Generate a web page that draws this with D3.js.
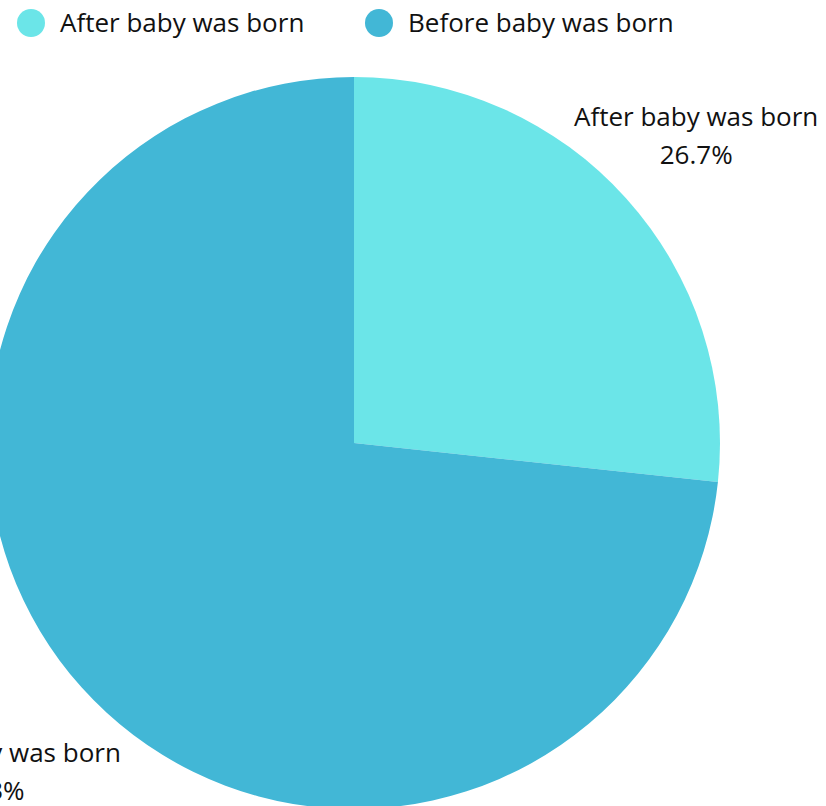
<!DOCTYPE html>
<html><head><meta charset="utf-8">
<script src="https://cdn.jsdelivr.net/npm/d3@7"></script>
<style>body{margin:0;background:#fff;}svg{display:block;font-family:"Open Sans",sans-serif;}</style>
</head><body>
<svg id="c" width="826" height="806"></svg>
<script>
const categories = ["After baby was born", "Before baby was born"];
const values = [26.7, 73.3];
const colors = ["#6be5e8", "#42b7d6"];

const svg = d3.select("#c");
const cx = 354, cy = 443, r = 366;
const fs = 26;
const pie = d3.pie().sort(null).value(d => d)(values);
const arc = d3.arc().innerRadius(0).outerRadius(r);
const g = svg.append("g").attr("transform", `translate(${cx},${cy})`);
g.selectAll("path").data(pie).join("path").attr("d", arc).attr("fill", (d,i)=>colors[i]);

const labelR = [460, 492];
pie.forEach((d,i)=>{
  const a = (d.startAngle + d.endAngle)/2;
  const x = Math.sin(a)*labelR[i], y = -Math.cos(a)*labelR[i];
  const t = g.append("text").attr("text-anchor","middle").attr("font-size",fs).attr("fill","#111");
  t.append("tspan").attr("x",x).attr("y",y-10).text(categories[i]);
  t.append("tspan").attr("x",x).attr("y",y+28).text(d3.format(".1f")(values[i])+"%");
});

const legX = [31, 379];
const leg = svg.append("g");
categories.forEach((c,i)=>{
  leg.append("circle").attr("cx",legX[i]).attr("cy",23).attr("r",14).attr("fill",colors[i]);
  leg.append("text").attr("x",legX[i]+29).attr("y",32).attr("font-size",fs).attr("fill","#111").text(c);
});
</script>
</body></html>
